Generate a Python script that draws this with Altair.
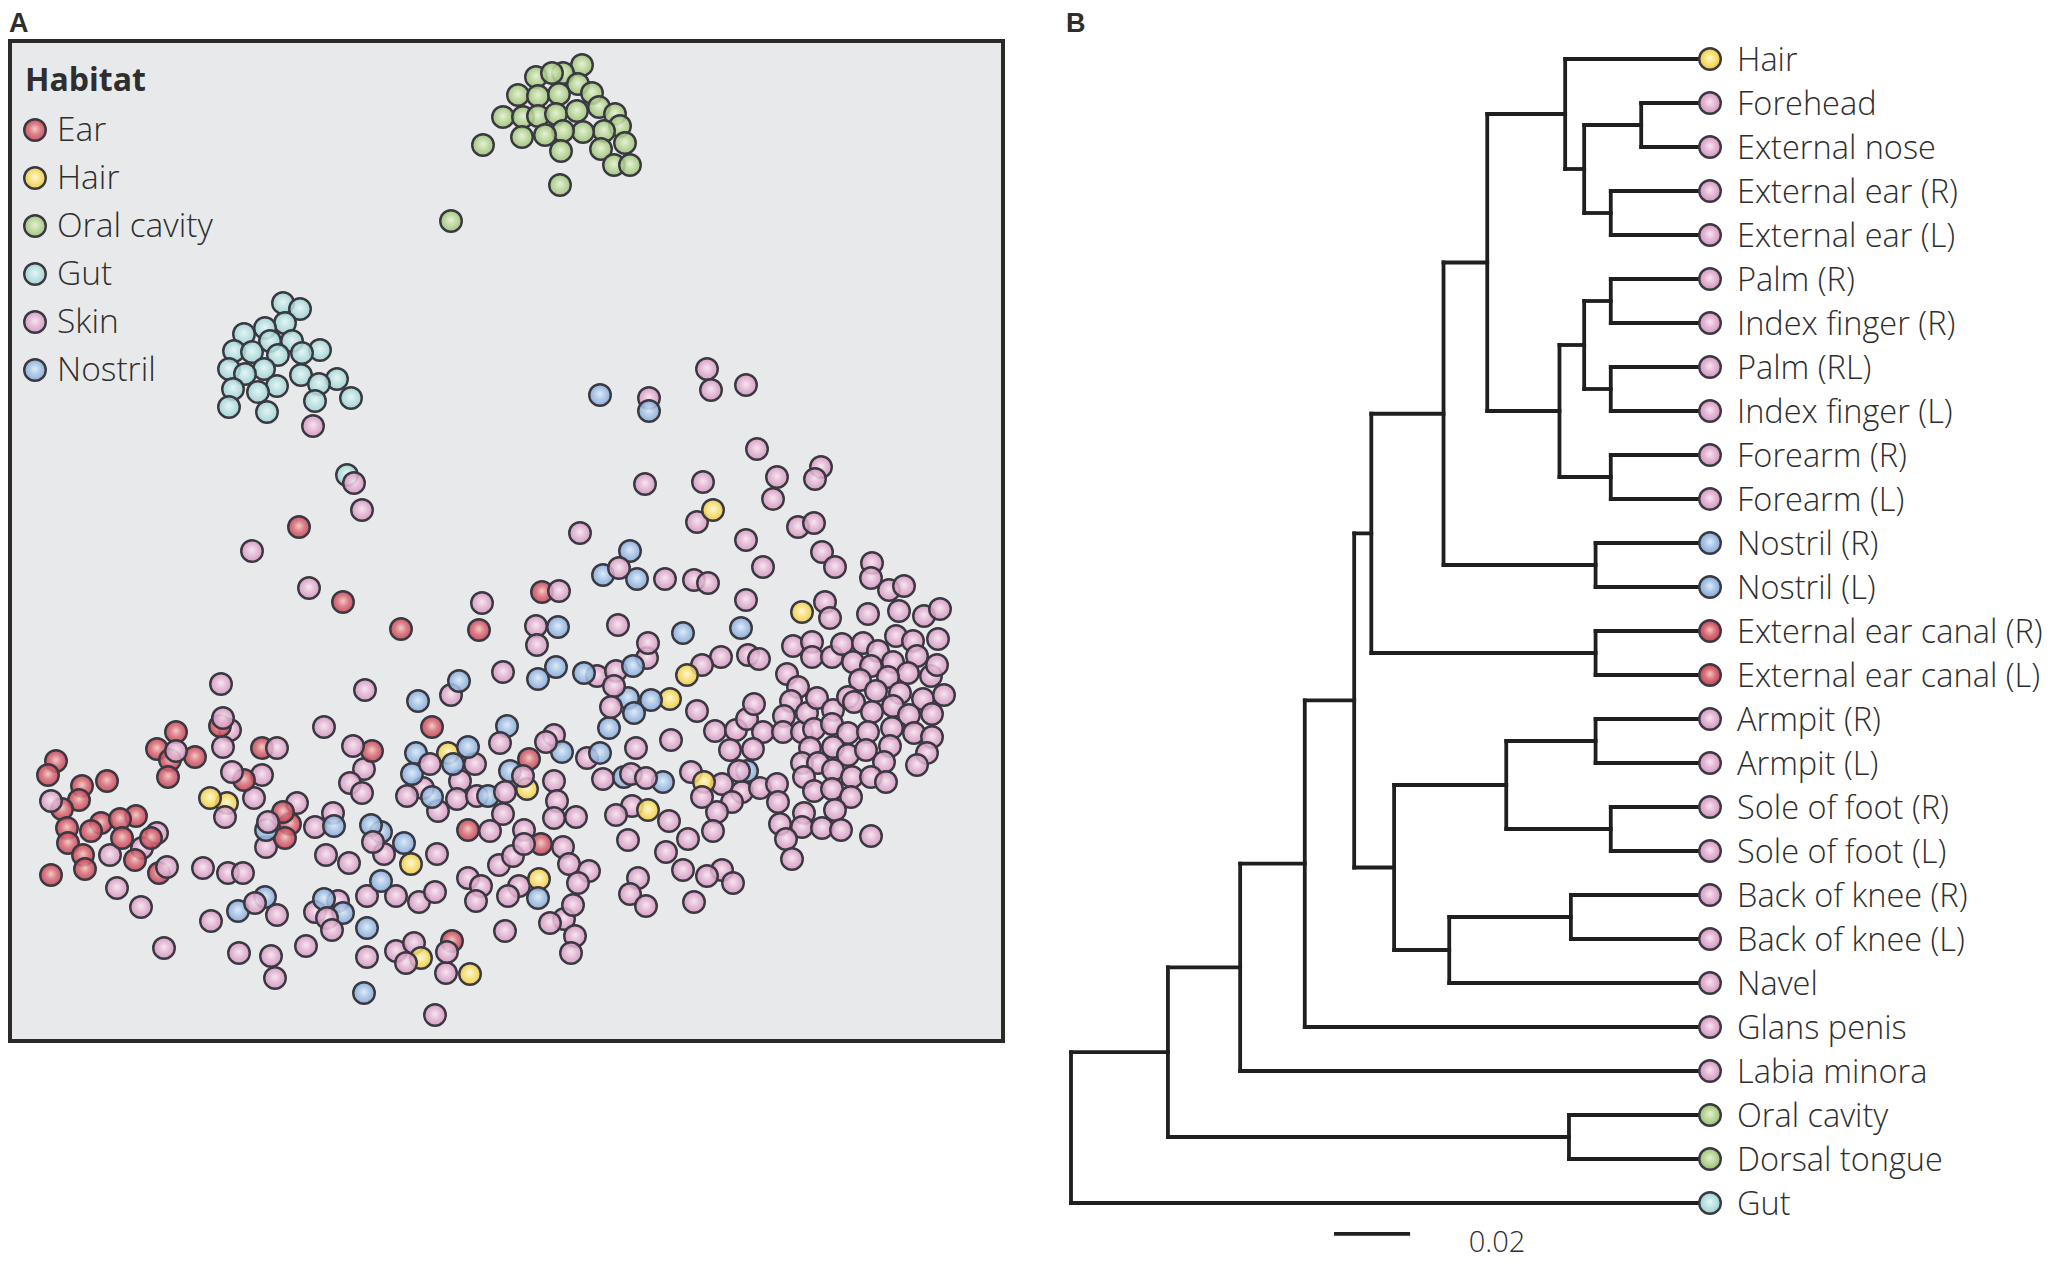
import altair as alt
import pandas as pd

# Panel A: ordination coordinates of each sample, one list per habitat
gut = [(283,303),(300,309),(285,323),(265,328),(244,334),(292,341),(270,341),(320,350),(302,353),(278,355),(234,351),(252,352),(264,369),(229,369),(245,374),(301,375),(337,379),(319,384),(277,386),(233,389),(258,392),(315,401),(351,398),(229,407),(267,412),(347,475)]
oral = [(582,65),(536,77),(563,73),(552,73),(578,84),(592,93),(518,95),(538,96),(559,94),(599,107),(615,114),(503,117),(523,117),(538,116),(556,114),(577,111),(620,126),(604,131),(583,132),(563,131),(545,135),(522,137),(483,145),(625,143),(601,149),(561,151),(614,165),(630,165),(560,185),(451,221)]
skin_back = [(313,426),(362,510),(252,551),(707,369),(711,390),(746,385),(649,398),(757,449),(645,484),(703,482),(697,522),(746,540),(580,533),(665,579),(694,580),(708,583),(763,567),(746,600),(777,477),(773,499),(821,467),(815,479),(798,527),(814,523),(822,552),(835,567),(872,563),(871,578),(889,590),(904,586),(825,602),(830,618),(868,614),(899,611),(924,616),(940,609),(536,626),(537,645),(618,625),(647,658),(648,643),(896,636),(913,641),(938,639),(793,646),(812,642),(812,657),(832,657),(842,644),(863,643),(878,651),(853,662),(871,666),(893,662),(917,656),(908,673),(931,676),(937,665),(860,680),(888,677),(721,657),(702,665),(748,655),(759,659),(787,674),(597,676),(616,671),(503,672),(697,711),(671,740),(715,731),(736,730),(747,719),(754,704),(763,732),(730,750),(753,749),(798,687),(791,701),(784,716),(783,732),(802,732),(807,713),(817,698),(833,710),(814,729),(832,724),(848,697),(854,702),(876,691),(900,693),(923,699),(944,695),(893,706),(872,712),(909,715),(932,714),(848,733),(868,732),(892,728),(914,733),(932,737),(810,748),(833,747),(848,755),(866,750),(890,746),(927,753),(917,765),(884,762),(802,763),(818,763),(833,770),(804,777),(852,777),(871,777),(886,782),(814,791),(832,789),(851,797),(804,813),(835,810),(780,824),(802,827),(822,828),(841,830),(871,836),(786,839),(792,859),(691,772),(722,784),(742,792),(760,788),(777,784),(778,802),(732,802),(717,812),(713,831),(688,839),(666,852),(683,870),(722,870),(707,876),(733,883),(694,902),(636,748),(587,758),(554,735),(603,779),(554,781),(557,801),(554,818),(576,817),(632,806),(616,815),(669,821),(628,840),(563,847),(569,864),(589,871),(578,883),(519,886),(508,896),(638,878),(630,894),(646,906),(564,919),(573,905),(550,923),(575,936),(571,953),(505,931),(309,588),(482,603),(221,684),(365,690),(451,695),(324,727),(230,730),(223,747),(364,769),(350,783),(362,793),(475,764),(460,781),(423,788),(407,796),(457,799),(477,796),(438,811),(503,814),(490,831),(468,878),(481,886),(476,901),(499,865),(513,856),(367,896),(396,896),(419,902),(435,892),(117,888),(141,907),(164,948),(203,868),(228,873),(243,873),(142,848),(110,855),(157,833),(262,775),(254,798),(297,803),(266,847),(333,813),(326,855),(349,863),(384,854),(437,854),(211,921),(277,915),(338,901),(315,912),(306,946),(367,957),(396,951),(414,943),(239,953),(271,956),(275,978),(446,973),(435,1015),(315,827)]
ear = [(299,527),(343,602),(401,629),(479,630),(432,727),(220,726),(176,732),(157,749),(170,760),(195,757),(168,777),(262,748),(372,751),(244,780),(290,824),(285,838),(283,812),(56,761),(48,775),(82,786),(107,781),(79,800),(62,809),(67,828),(101,823),(136,816),(120,819),(91,831),(68,843),(122,838),(151,838),(83,855),(135,860),(85,869),(51,875),(159,873),(468,830),(452,941),(542,592),(529,759),(541,844)]
hair = [(713,510),(802,612),(687,675),(670,699),(448,753),(527,789),(704,782),(648,810),(539,879),(227,803),(210,798),(411,864),(421,958),(470,974)]
nostril = [(600,395),(649,411),(630,551),(603,575),(637,579),(558,627),(683,633),(741,628),(556,667),(538,679),(584,673),(633,666),(628,698),(651,700),(634,713),(609,728),(600,753),(562,752),(507,726),(510,771),(624,777),(663,782),(747,771),(459,681),(418,701),(416,753),(468,747),(453,764),(412,774),(432,797),(488,796),(266,830),(334,826),(381,832),(371,825),(404,843),(381,881),(265,897),(238,911),(324,899),(343,913),(367,928),(364,993),(538,898)]
skin_front = [(176,751),(277,748),(51,801),(167,867),(223,718),(232,772),(225,817),(268,822),(353,746),(430,764),(373,842),(255,903),(327,918),(332,930),(354,483),(500,743),(505,792),(523,776),(546,742),(619,568),(559,591),(614,686),(611,707),(406,963),(447,952),(524,830),(524,844),(739,771),(702,797),(631,774),(646,778)]

habitats = ["Ear", "Hair", "Oral cavity", "Gut", "Skin", "Nostril"]
legend_y = [130, 178, 226, 274, 322, 370]
legend_x = [35] * 6
legend_text_x = [57] * 6

# Panel B: tree as nested (divergence, children); a leaf is (label, habitat)
TIP = 0.1681
tree = (0.0, [
    (0.0255, [
        (0.0445, [
            (0.0615, [
                (0.0745, [
                    (0.079, [
                        (0.098, [
                            (0.1095, [
                                (0.130, [
                                    ("Hair", "Hair"),
                                    (0.135, [
                                        (0.150, [("Forehead", "Skin"), ("External nose", "Skin")]),
                                        (0.142, [("External ear (R)", "Skin"), ("External ear (L)", "Skin")]),
                                    ]),
                                ]),
                                (0.1285, [
                                    (0.135, [
                                        (0.142, [("Palm (R)", "Skin"), ("Index finger (R)", "Skin")]),
                                        (0.142, [("Palm (RL)", "Skin"), ("Index finger (L)", "Skin")]),
                                    ]),
                                    (0.142, [("Forearm (R)", "Skin"), ("Forearm (L)", "Skin")]),
                                ]),
                            ]),
                            (0.138, [("Nostril (R)", "Nostril"), ("Nostril (L)", "Nostril")]),
                        ]),
                        (0.138, [("External ear canal (R)", "Ear"), ("External ear canal (L)", "Ear")]),
                    ]),
                    (0.085, [
                        (0.1145, [
                            (0.138, [("Armpit (R)", "Skin"), ("Armpit (L)", "Skin")]),
                            (0.142, [("Sole of foot (R)", "Skin"), ("Sole of foot (L)", "Skin")]),
                        ]),
                        (0.0995, [
                            (0.1315, [("Back of knee (R)", "Skin"), ("Back of knee (L)", "Skin")]),
                            ("Navel", "Skin"),
                        ]),
                    ]),
                ]),
                ("Glans penis", "Skin"),
            ]),
            ("Labia minora", "Skin"),
        ]),
        (0.131, [("Oral cavity", "Oral cavity"), ("Dorsal tongue", "Oral cavity")]),
    ]),
    ("Gut", "Gut"),
])
scale_bar = [0.0692, 0.0892]
scale_bar_row = 26.7
scale_label = "0.02"

segments, tips = [], []


def walk(node):
    if isinstance(node[0], str):
        row = len(tips)
        tips.append({"label": node[0], "habitat": node[1], "d": TIP, "row": row})
        return TIP, row
    d, children = node
    placed = [walk(c) for c in children]
    rows = [r for _, r in placed]
    mid = (min(rows) + max(rows)) / 2
    segments.append({"d": d, "d2": d, "row": min(rows), "row2": max(rows)})
    for cd, r in placed:
        segments.append({"d": d, "d2": cd, "row": r, "row2": r})
    return d, mid


walk(tree)

# Page geometry: the chart begins 8 px inside the page and must not make it scroll
PAGE_W, PAGE_H = 2053, 1273
WIDTH, HEIGHT = PAGE_W - 16, PAGE_H - 20


def stops(*cols):
    n = len(cols) - 1
    return [{"offset": i / n, "color": c} for i, c in enumerate(cols)]


def ball(*cols):
    return {"gradient": "radial", "x1": 0.5, "y1": 0.44, "r1": 0, "x2": 0.5, "y2": 0.5, "r2": 0.52, "stops": stops(*cols)}


FILL = {
    "Ear": ball("#f2c6bf", "#da6f7a", "#bf3f52"),
    "Hair": ball("#fff9d2", "#f9e276", "#ecc63c"),
    "Oral cavity": ball("#e6f1d4", "#bcd89b", "#97bc74"),
    "Gut": ball("#e6f6f6", "#bde3e2", "#96cfcf"),
    "Skin": ball("#f7e6f0", "#e5b7d5", "#d091bc"),
    "Nostril": ball("#deebf7", "#a8c6e8", "#81a3d6"),
}
EDGE = "#3a3840"
INK = "#2e2e2e"
FONT = "Open Sans"

ax = alt.X("x:Q", scale=alt.Scale(domain=[0, PAGE_W], range=[-8, PAGE_W - 8]), axis=None)
ay = alt.Y("y:Q", scale=alt.Scale(domain=[0, PAGE_H], range=[-8, PAGE_H - 8]), axis=None)
ax2 = alt.X2("x2:Q")
ay2 = alt.Y2("y2:Q")
tx = alt.X("d:Q", scale=alt.Scale(domain=[0, TIP], range=[1063, 1702]), axis=None)
ty = alt.Y("row:Q", scale=alt.Scale(domain=[0, 26], range=[51, 1195]), axis=None)


def balls(rows, habitat):
    return alt.Chart(pd.DataFrame(rows)).mark_circle(
        fill=FILL[habitat], size=465, stroke=EDGE, strokeWidth=2.4, opacity=1, fillOpacity=0.88
    ).encode(x=ax, y=ay)


def samples(pairs, habitat):
    return balls([{"x": a, "y": b} for a, b in pairs], habitat)


def label(rows, size, weight="normal", align="left", font=FONT):
    return alt.Chart(pd.DataFrame(rows)).mark_text(
        align=align, baseline="alphabetic", font=font, fontSize=size, fontWeight=weight, color=INK
    ).encode(x=ax, y=ay, text="t:N")


frame = alt.Chart(pd.DataFrame([{"x": 10, "x2": 1003, "y": 41, "y2": 1041}])).mark_rect(
    fill="#e8e9ea", stroke="#2a2a28", strokeWidth=4
).encode(x=ax, x2=ax2, y=ay, y2=ay2)

layers = [frame]
layers += [samples(gut, "Gut"), samples(oral, "Oral cavity"), samples(skin_back, "Skin"),
           samples(ear, "Ear"), samples(hair, "Hair"), samples(nostril, "Nostril"),
           samples(skin_front, "Skin")]

for h, lx, ly in zip(habitats, legend_x, legend_y):
    layers.append(samples([(lx, ly)], h))
layers.append(label([{"x": a, "y": b + 11, "t": h} for a, b, h in zip(legend_text_x, legend_y, habitats)], 33.5, 300))
layers.append(label([{"x": 25, "y": 91, "t": "Habitat"}], 32, "bold"))
layers.append(label([{"x": 9, "y": 32, "t": "A"}, {"x": 1066, "y": 32, "t": "B"}], 27, "bold", font="Liberation Sans"))

seg = pd.DataFrame(segments)
layers.append(alt.Chart(seg).mark_rule(stroke="#1f1f1f", strokeWidth=3.8, strokeCap="square").encode(
    x=tx, x2="d2:Q", y=ty, y2="row2:Q"))

for h in habitats:
    part = pd.DataFrame([t for t in tips if t["habitat"] == h])
    layers.append(alt.Chart(part).mark_circle(
        fill=FILL[h], size=465, stroke=EDGE, strokeWidth=2.4, opacity=1, fillOpacity=1
    ).encode(x=tx, y=ty))

tip_text = pd.DataFrame(tips)
layers.append(alt.Chart(tip_text).mark_text(
    align="left", baseline="middle", font=FONT, fontSize=32.5, fontWeight=300, color=INK, dx=27, dy=2
).encode(x=tx, y=ty, text="label:N"))

bar = pd.DataFrame([{"d": scale_bar[0], "d2": scale_bar[1], "row": scale_bar_row}])
layers.append(alt.Chart(bar).mark_rule(stroke="#1f1f1f", strokeWidth=3.8).encode(x=tx, x2="d2:Q", y=ty))
layers.append(label([{"x": 1497, "y": 1252, "t": scale_label}], 29, 300, align="center"))

chart = alt.layer(*layers).resolve_scale(x="independent", y="independent").properties(
    width=WIDTH, height=HEIGHT, padding=0, background="white",
    autosize=alt.AutoSizeParams(type="none"),
).configure_view(stroke=None)

chart.save("out.html", embed_options={"renderer": "svg", "actions": False})
